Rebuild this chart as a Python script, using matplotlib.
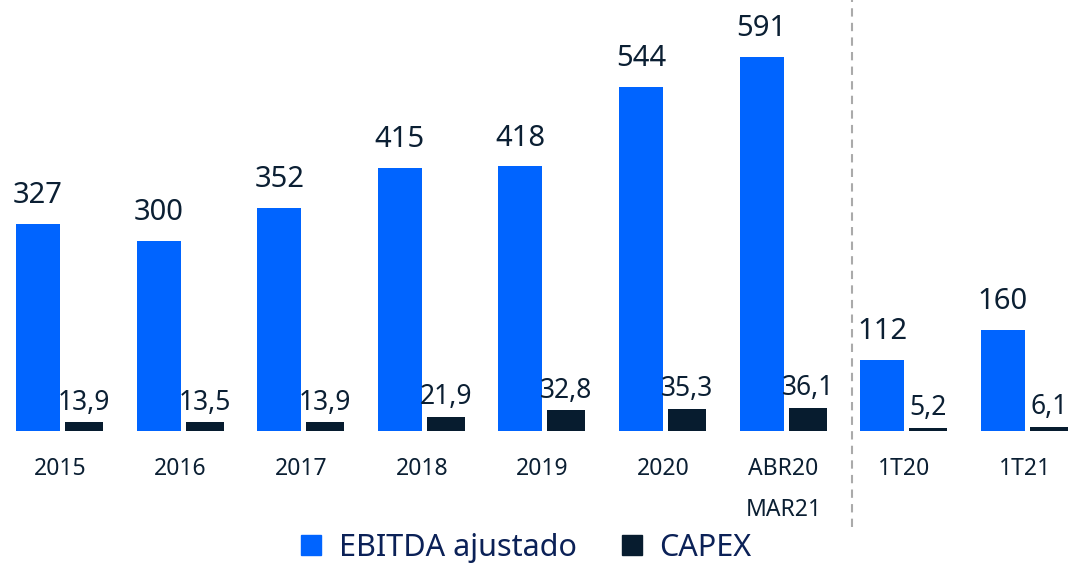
import matplotlib
matplotlib.use("Agg")
import matplotlib.pyplot as plt
from matplotlib.lines import Line2D
import numpy as np

plt.rcParams['font.family'] = ['Noto Sans', 'DejaVu Sans']

# Данные
categories = ['2015', '2016', '2017', '2018', '2019', '2020', 'ABR20\nMAR21', '1T20', '1T21']
ebitda = [327, 300, 352, 415, 418, 544, 591, 112, 160]
capex = [13.9, 13.5, 13.9, 21.9, 32.8, 35.3, 36.1, 5.2, 6.1]
ebitda_lbl = ['327', '300', '352', '415', '418', '544', '591', '112', '160']
capex_lbl = ['13,9', '13,5', '13,9', '21,9', '32,8', '35,3', '36,1', '5,2', '6,1']

BLUE = '#0064ff'
NAVY = '#071c2f'
TXT = '#0b1f33'

fig = plt.figure(figsize=(10.71, 5.65), dpi=100)
ax = fig.add_axes([0, 134 / 565, 1, 431 / 565])

x = np.arange(len(categories))
ax.bar(x - 0.182, ebitda, width=0.365, color=BLUE)
ax.bar(x + 0.199, capex, width=0.315, color=NAVY)

for i in range(len(x)):
    ax.text(x[i] - 0.182, ebitda[i] + 22, ebitda_lbl[i], ha='center', va='bottom',
            fontsize=21, color=TXT)
    ax.text(x[i] + 0.199, capex[i] + 9, capex_lbl[i], ha='center', va='bottom',
            fontsize=19, color=TXT)

ax.set_xlim(-0.4975, 8.383)
ax.set_ylim(0, 681)
ax.set_xticks(x)
ax.set_xticklabels(categories, fontsize=16.5, color=TXT, linespacing=1.95,
                   fontweight='medium')
ax.tick_params(axis='x', length=0, pad=19)
ax.set_yticks([])
for s in ax.spines.values():
    s.set_visible(False)

# разделитель между годами и кварталами
ax.plot([6.567, 6.567], [-151, 690], color='#aaaaaa', lw=1.5, ls=(0, (4, 3)), clip_on=False)

handles = [Line2D([], [], marker='s', ls='', markersize=14.5, color=BLUE),
           Line2D([], [], marker='s', ls='', markersize=14.5, color=NAVY)]
fig.legend(handles, ['EBITDA ajustado', 'CAPEX'], loc='center', ncol=2,
           bbox_to_anchor=(0.489, 1 - 548 / 565), frameon=False, fontsize=22,
           labelcolor='#0b2157', handlelength=1.0, handletextpad=0.4,
           columnspacing=1.3)

fig.savefig('out.png', dpi=100)
